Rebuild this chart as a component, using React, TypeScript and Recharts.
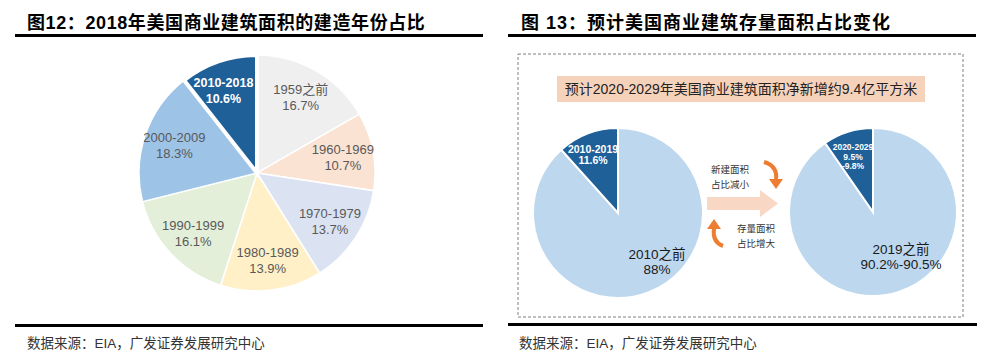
import { PieChart, Pie, Cell } from 'recharts';

// 图12 data
const periods = ['1959之前', '1960-1969', '1970-1979', '1980-1989', '1990-1999', '2000-2009', '2010-2018'];
const shares = [16.7, 10.7, 13.7, 13.9, 16.1, 18.3, 10.6];
const periodColors = ['#efefef', '#fbe3d3', '#dbe3f3', '#fff0c8', '#e3efd9', '#9dc3e6', '#1f6098'];

// 图13 data
const before2010 = ['2010之前', '2010-2019'];
const before2010Vals = [88, 11.6];
const before2010Text = [['2010之前', '88%'], ['2010-2019', '11.6%']];
const before2020 = ['2019之前', '2020-2029'];
const before2020Vals = [90.35, 9.65];
const before2020Text = [['2019之前', '90.2%-90.5%'], ['2020-2029', '9.5%', '-9.8%']];

const RADIAN = Math.PI / 180;
const cjk = '"Noto Sans CJK SC", sans-serif';
const mixed = '"Liberation Sans", "Noto Sans CJK SC", sans-serif';

const leftData = periods.map((p, i) => ({ name: p, value: shares[i] }));
const pieA = before2010.map((n, i) => ({ name: n, value: before2010Vals[i] }));
const pieB = before2020.map((n, i) => ({ name: n, value: before2020Vals[i] }));

function periodLabel(props: any) {
  const { cx, cy, midAngle, outerRadius, index } = props;
  const dark = index === periods.length - 1;
  const r = outerRadius * 0.74;
  const x = cx + r * Math.cos(-midAngle * RADIAN) - (dark ? 5 : 0);
  const y = cy + r * Math.sin(-midAngle * RADIAN);
  return (
    <text x={x} y={y} textAnchor="middle" fill={dark ? '#fff' : '#595959'}
      fontSize={dark ? 12.5 : 13} fontWeight={dark ? 700 : 400} fontFamily={mixed}>
      <tspan x={x} dy={-3}>{periods[index]}</tspan>
      <tspan x={x} dy={16}>{shares[index]}%</tspan>
    </text>
  );
}

function makeLabel(lines: string[][], pos: number[][]) {
  return (props: any) => {
    const { cx, cy, index } = props;
    const small = index === 1;
    const many = lines[index].length > 2;
    const x = cx + pos[index][0];
    const y = cy + pos[index][1];
    const lh = small ? (many ? 9.5 : 11) : 15;
    return (
      <text x={x} y={y} textAnchor="middle" fill={small ? '#fff' : '#1a1a1a'}
        fontSize={small ? (many ? 8.5 : 10.5) : 13.5}
        fontWeight={small ? 700 : 400} fontFamily={mixed}>
        {lines[index].map((t, k) => (
          <tspan key={k} x={x} dy={k === 0 ? 0 : lh}>{t}</tspan>
        ))}
      </text>
    );
  };
}

const rule = (left: number, top: number, width: number) => (
  <div style={{ position: 'absolute', left, top, width, height: 2.5, background: '#000' }} />
);

export default function App() {
  return (
    <div style={{ position: 'absolute', left: 0, top: 0, width: 992, height: 356, background: '#fff', fontFamily: cjk }}>
      <div style={{ position: 'absolute', left: 27, top: 8, fontSize: 18, fontWeight: 700, letterSpacing: 0.6, color: '#000', whiteSpace: 'nowrap', fontFamily: mixed }}>
        图12：2018年美国商业建筑面积的建造年份占比
      </div>
      <div style={{ position: 'absolute', left: 521, top: 8, fontSize: 18, fontWeight: 700, letterSpacing: 1, color: '#000', whiteSpace: 'nowrap', fontFamily: mixed }}>
        图 13：预计美国商业建筑存量面积占比变化
      </div>
      {rule(15, 34, 468)}
      {rule(508, 34, 468)}
      {rule(15, 324, 468)}
      {rule(508, 323, 469)}
      <div style={{ position: 'absolute', left: 27, top: 332, fontSize: 13.5, color: '#333', whiteSpace: 'nowrap', fontFamily: mixed }}>
        数据来源：EIA，广发证券发展研究中心
      </div>
      <div style={{ position: 'absolute', left: 519, top: 332, fontSize: 13.5, color: '#333', whiteSpace: 'nowrap', fontFamily: mixed }}>
        数据来源：EIA，广发证券发展研究中心
      </div>

      <div style={{ position: 'absolute', left: 0, top: 40 }}>
        <PieChart width={496} height={280}>
          <Pie data={leftData} dataKey="value" nameKey="name" cx={252} cy={128} outerRadius={118}
            startAngle={90} endAngle={-270} label={periodLabel} labelLine={false} isAnimationActive={false}>
            {leftData.map((d, i) => (
              <Cell key={d.name} fill={periodColors[i]} stroke="#fff" strokeWidth={i === 6 ? 4 : 1.5} />
            ))}
          </Pie>
        </PieChart>
      </div>

      <svg style={{ position: 'absolute', left: 0, top: 0 }} width={992} height={356}>
        <rect x={518} y={54} width={445} height={263} fill="none" stroke="#808080" strokeWidth={1} strokeDasharray="3 2" />
        <rect x={557} y={76} width={368} height={26} fill="#f7d2bb" />
        <text x={741} y={94} textAnchor="middle" fontSize={14} fill="#222" fontFamily={mixed}>
          预计2020-2029年美国商业建筑面积净新增约9.4亿平方米
        </text>
        <polygon points="707,197 760,197 760,190 778,203.5 760,217 760,210 707,210" fill="#f8d8c4" />
        <path d="M764,162 Q778,166 776,180" fill="none" stroke="#ed7d31" strokeWidth={4} />
        <polygon points="769,179 783,179 776,189" fill="#ed7d31" />
        <path d="M723,246 Q712,242 714,228" fill="none" stroke="#ed7d31" strokeWidth={4} />
        <polygon points="707,229 721,229 714,219" fill="#ed7d31" />
        <g fontSize={9.5} fill="#333" fontFamily={cjk} textAnchor="middle">
          <text x={730} y={173}>
            <tspan x={730}>新建面积</tspan>
            <tspan x={730} dy={14.5}>占比减小</tspan>
          </text>
          <text x={756} y={232}>
            <tspan x={756}>存量面积</tspan>
            <tspan x={756} dy={14.5}>占比增大</tspan>
          </text>
        </g>
      </svg>

      <div style={{ position: 'absolute', left: 496, top: 110 }}>
        <PieChart width={496} height={200}>
          <Pie data={pieA} dataKey="value" nameKey="name" cx={117} cy={98} outerRadius={85}
            startAngle={90} endAngle={-270} labelLine={false} isAnimationActive={false}
            label={makeLabel(before2010Text, [[39, 46], [-25, -60]])}>
            <Cell fill="#bdd7ee" stroke="#fff" strokeWidth={2} />
            <Cell fill="#1f6098" stroke="#fff" strokeWidth={2} />
          </Pie>
          <Pie data={pieB} dataKey="value" nameKey="name" cx={372} cy={97} outerRadius={84}
            startAngle={90} endAngle={-270} labelLine={false} isAnimationActive={false}
            label={makeLabel(before2020Text, [[28, 42], [-20, -62]])}>
            <Cell fill="#bdd7ee" stroke="#fff" strokeWidth={2} />
            <Cell fill="#1f6098" stroke="#fff" strokeWidth={2} />
          </Pie>
        </PieChart>
      </div>
    </div>
  );
}
